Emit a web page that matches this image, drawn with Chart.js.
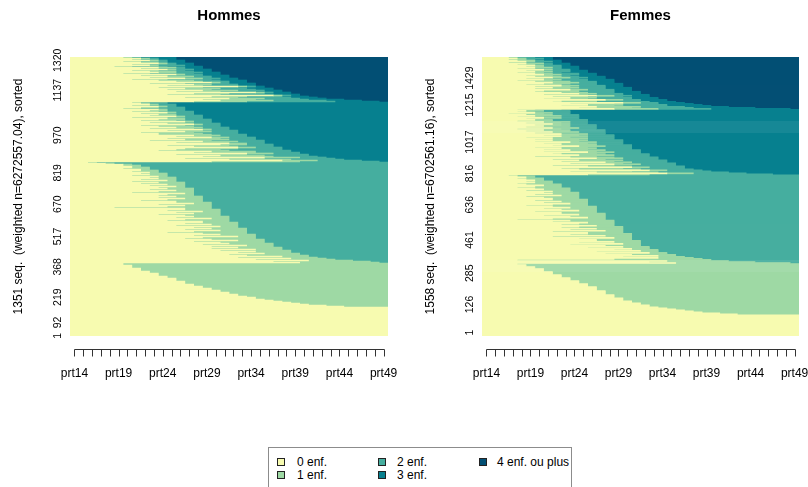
<!DOCTYPE html>
<html>
<head>
<meta charset="utf-8">
<script src="https://cdn.jsdelivr.net/npm/chart.js@4.4.0/dist/chart.umd.min.js"></script>
<style>
    html, body { margin: 0; padding: 0; background: #fff; width: 808px; height: 487px; overflow: hidden; }
    canvas { position: absolute; top: 0; }
    #hommes { left: 0; }
    #femmes { left: 404px; }
    #legend { position: absolute; left: 268px; top: 447px; width: 304px; height: 60px; border: 1px solid #8c8c8c; box-sizing: border-box; font: 12px 'Liberation Sans', Arial, sans-serif; color: #000; }
    #legend .sw { position: absolute; width: 6px; height: 6px; border: 1px solid #222; }
    #legend .lb { position: absolute; line-height: 14px; white-space: nowrap; }
</style>
</head>
<body>
<canvas id="hommes" width="404" height="400"></canvas>
<canvas id="femmes" width="410" height="400"></canvas>
<div id="legend"></div>

<script>
// Etats et périodes
const states = ['0 enf.', '1 enf.', '2 enf.', '3 enf.', '4 enf. ou plus'];
const periods = ['prt14', 'prt15', 'prt16', 'prt17', 'prt18', 'prt19', 'prt20', 'prt21', 'prt22',
    'prt23', 'prt24', 'prt25', 'prt26', 'prt27', 'prt28', 'prt29', 'prt30', 'prt31', 'prt32',
    'prt33', 'prt34', 'prt35', 'prt36', 'prt37', 'prt38', 'prt39', 'prt40', 'prt41', 'prt42',
    'prt43', 'prt44', 'prt45', 'prt46', 'prt47', 'prt48', 'prt49'];
const firstAge = 14;
const stateColors = ['#F7FBB0', '#9ED9A4', '#46AE9F', '#07808F', '#034F74'];

// Hommes : âges aux naissances successives, une ligne par tranche de séquences (haut -> bas)
const hommesFour = [
    [20,21,22,26],[22,23,24,26],[21,22,24,26],
    [23,24,25,27],[20,22,25,27],[22,24,25,27],
    [24,25,26,28],[21,23,26,28],[23,24,27,28],
    [19,21,25,29],[24,26,27,29],[22,24,27,29],
    [25,26,28,30],[21,24,27,30],[23,26,28,30],
    [24,26,29,31],[20,23,28,31],[26,27,29,31],
    [22,25,29,32],[25,28,30,32],[23,27,30,32],
    [27,29,31,33],[21,25,30,33],
    [24,28,31,34],[26,29,32,34],[30,31,32,34],
    [23,27,32,35],[28,30,33,35],[25,29,33,35],
    [33,34,35,36],[24,29,33,36],
    [27,31,34,37],[25,30,35,37],
    [29,33,36,38],[26,31,35,38],
    [35,36,37,39],[28,32,36,39],
    [25,31,37,40],[37,38,39,40],
    [30,34,38,41],[27,33,39,42],[32,36,40,43],[29,35,41,45],[31,37,43,47],[28,34,44,49]
];
const hommesThree = [
    [21,22,25],[22,23,25],
    [23,24,26],[21,23,26],[24,25,26],
    [22,24,27],[20,22,27],[24,25,27],[23,25,27],
    [21,24,28],[25,26,28],[22,25,28],[24,26,28],
    [23,26,29],[26,27,29],[21,25,29],[25,27,29],
    [24,27,30],[22,26,30],[27,28,30],[23,27,30],
    [25,28,31],[28,29,31],[22,27,31],[24,28,31],
    [26,29,32],[23,28,32],[29,30,32],
    [25,29,33],[27,30,33],[22,28,33],[24,29,33],
    [24,30,34],[28,31,34],[26,30,34],
    [30,32,35],[25,31,35],[27,32,35],
    [23,30,36],[29,33,36],[26,32,36],[32,34,36],
    [31,34,37],[25,32,37],[28,33,37],
    [33,35,38],[27,33,38],[26,31,38],
    [24,32,39],[30,35,39],
    [28,35,40],[34,37,40],
    [26,34,41],[31,36,41],
    [29,37,42],[36,40,43],[27,36,44],[32,39,45],[38,42,47],[30,40,49]
];
const hommesTwo = [
    [16,17],[18,19],[20,21],
    [20,22],[21,22],
    [21,23],[20,23],[22,23],
    [22,24],[21,24],[23,24],
    [22,25],[23,25],[21,25],[24,25],
    [23,26],[24,26],[22,26],[25,26],[21,26],
    [24,27],[22,27],[25,27],[23,27],[26,27],[24,27],
    [25,28],[23,28],[26,28],[24,28],[21,28],[27,28],[25,28],[24,28],
    [26,29],[24,29],[27,29],[25,29],[22,29],[26,29],
    [26,30],[28,30],[24,30],[27,30],[25,30],[19,30],[27,30],
    [27,31],[25,31],[29,31],[26,31],[28,31],[24,31],[27,31],
    [28,32],[26,32],[30,32],[27,32],[25,32],[29,32],
    [29,33],[27,33],[30,33],[26,33],[31,33],[28,33],
    [30,34],[27,34],[31,34],[28,34],[25,34],[29,34],
    [31,35],[28,35],[33,35],[29,35],[27,35],
    [30,36],[33,36],[28,36],[31,36],
    [32,37],[29,37],[34,37],[30,37],
    [33,38],[30,38],[35,38],
    [31,39],[35,39],[33,39],
    [36,40],[32,40],
    [34,41],[38,41],
    [33,42],[39,43],[35,44],[41,46],[37,48],[40,49]
];
const hommesOne = [20,20,21,21,21,22,22,22,23,23,24,24,24,25,25,26,26,26,27,27,27,
    28,28,29,29,30,30,31,31,32,32,33,33,34,35,35,36,37,38,39,40,41,43,45];
const hommesNone = 29;
const hommesTickRows = [3.3, 33.2, 78.2, 115.8, 147.2, 179.5, 209.8, 240.2, 265.5, 278.8];
const hommesTickLabels = ['1320', '1137', '970', '819', '670', '517', '368', '219', '92', '1'];

// Femmes
const femmesFour = [
    [17,18,20,22],[18,19,21,22],[17,19,20,22],
    [18,20,21,23],[19,20,22,23],[17,19,21,23],
    [19,21,22,24],[18,20,22,24],[20,21,23,24],
    [19,21,23,25],[20,22,23,25],[18,20,23,25],[21,22,24,25],
    [19,21,24,26],[20,22,24,26],[18,21,23,26],
    [20,22,25,27],[21,23,25,27],[19,22,24,27],
    [20,23,25,28],[22,24,26,28],[19,21,25,28],
    [21,23,26,29],[18,22,26,29],[20,24,27,29],[22,25,27,29],
    [21,24,27,30],[19,23,27,30],[23,25,28,30],[20,24,28,30],
    [22,25,28,31],[20,24,28,31],[24,26,29,31],[21,25,29,31],
    [20,25,29,32],[23,26,29,32],[25,27,30,32],
    [21,26,30,33],[27,29,31,33],[22,26,30,33],
    [24,27,31,34],[21,26,31,34],
    [28,30,32,35],[23,27,32,35],
    [22,27,33,36],[30,32,34,37],[24,29,34,38],[26,30,35,39],[23,29,35,40],
    [27,32,37,42],[25,31,38,45],[29,34,40,49]
];
const femmesThree = [
    [18,20,23],
    [19,21,24],[18,20,24],[20,22,24],[17,21,24],
    [19,22,25],[20,23,25],[18,21,25],[21,23,25],[19,21,25],
    [20,22,26],[18,22,26],[21,24,26],[19,23,26],[22,24,26],
    [20,23,27],[21,24,27],[19,22,27],[22,25,27],[18,23,27],
    [21,24,28],[19,24,28],[22,25,28],[20,23,28],[23,26,28],
    [21,25,29],[23,26,29],[19,24,29],[22,26,29],[20,25,29],
    [22,26,30],[20,25,30],[24,27,30],[21,26,30],[23,27,30],
    [22,27,31],[25,28,31],[20,26,31],[23,27,31],[21,26,31],
    [24,28,32],[21,27,32],[26,29,32],[22,27,32],
    [23,28,33],[25,29,33],[20,27,33],
    [24,29,34],[27,30,34],[22,28,34],
    [25,30,35],[23,29,35],[28,31,35],
    [24,30,36],[29,32,36],[22,29,36],
    [26,31,37],[31,33,37],[23,30,37],
    [25,32,38],[33,35,39],[24,31,40],[27,34,42],[35,38,44],[26,33,47]
];
const femmesTwo = [
    [17,18],
    [18,20],[19,20],
    [18,21],[19,21],[20,21],
    [19,22],[20,22],[18,22],
    [19,23],[21,23],[20,23],[18,23],
    [20,24],[21,24],[19,24],[22,24],
    [21,25],[22,25],[20,25],[23,25],[19,25],[21,25],[22,25],
    [22,26],[20,26],[23,26],[21,26],[24,26],[22,26],[19,26],
    [22,27],[24,27],[21,27],[23,27],[25,27],[20,27],[23,27],
    [23,28],[25,28],[21,28],[24,28],[26,28],[22,28],[18,28],
    [24,29],[22,29],[26,29],[25,29],[23,29],[27,29],
    [25,30],[23,30],[27,30],[24,30],[28,30],[22,30],[26,30],
    [26,31],[24,31],[28,31],[22,31],[29,31],[25,31],[27,31],
    [27,32],[29,32],[25,32],[30,32],[24,32],[28,32],
    [30,33],[26,33],[31,33],
    [29,34],[32,34],[27,34],
    [33,35],[28,35],
    [31,36],[34,36],
    [30,37],[34,38],[29,39],[18,40],[35,42],[33,45],[36,49]
];
const femmesOne = [18,19,19,20,20,21,21,21,22,22,22,23,23,23,24,24,24,25,25,25,26,26,26,
    27,27,27,27,28,28,28,28,29,29,29,30,30,30,31,31,32,32,33,33,34,35,36,37,38,39,41,43];
const femmesNone = 21;
const femmesTickRows = [21, 47.7, 84.4, 115.7, 146.7, 181.7, 214.7, 245.7, 273.7];
const femmesTickLabels = ['1429', '1215', '1017', '816', '636', '461', '285', '126', '1'];

const fontFamily = "'Liberation Sans', Arial, sans-serif";

// Assemble les lignes d'un panneau (haut -> bas)
function buildRows(four, three, two, one, none) {
    const rows = [];
    four.forEach(b => rows.push(b));
    three.forEach(b => rows.push(b));
    two.forEach(b => rows.push(b));
    one.forEach(a => rows.push([a]));
    for (let i = 0; i < none; i++) rows.push([]);
    return rows;
}

// Durée passée dans un état pour chaque ligne
function spells(rows, state) {
    const end = firstAge + periods.length;
    return rows.map(b => {
        if (state > b.length) return null;
        const from = state === 0 ? firstAge : b[state - 1];
        const to = state < b.length ? b[state] : end;
        const d = to - from;
        return d > 0 ? d : null;
    });
}

// Axes à la manière de R : ligne et graduations des x décalées sous le graphique,
// étiquettes des séquences tournées à gauche
const rAxis = {
    id: 'rAxis',
    afterDraw(chart, args, opts) {
        const xs = chart.scales.x;
        const ys = chart.scales.y;
        const ctx = chart.ctx;
        const y0 = Math.round(chart.chartArea.bottom + 13) + 0.5;
        ctx.save();
        ctx.strokeStyle = '#333';
        ctx.lineWidth = 1;
        ctx.beginPath();
        const p0 = Math.round(xs.getPixelForValue(xs.ticks[0].value)) + 0.5;
        const p1 = Math.round(xs.getPixelForValue(xs.ticks[xs.ticks.length - 1].value)) + 0.5;
        ctx.moveTo(p0, y0);
        ctx.lineTo(p1, y0);
        xs.ticks.forEach(t => {
            const px = Math.round(xs.getPixelForValue(t.value)) + 0.5;
            ctx.moveTo(px, y0);
            ctx.lineTo(px, y0 + 7);
        });
        ctx.stroke();

        ctx.fillStyle = '#000';
        ctx.font = '10.5px ' + fontFamily;
        ctx.textAlign = 'center';
        ctx.textBaseline = 'middle';
        const lx = chart.chartArea.left - opts.offset;
        opts.rows.forEach((r, i) => {
            const py = ys.getPixelForValue(r - 0.5);
            ctx.save();
            ctx.translate(lx, py);
            ctx.rotate(-Math.PI / 2);
            ctx.fillText(opts.labels[i], 0, 0);
            ctx.restore();
        });
        ctx.restore();
    }
};

function makePanel(id, title, yTitle, rows, tickRows, tickLabels, padLeft, padRight) {
    const ctx = document.getElementById(id).getContext('2d');
    return new Chart(ctx, {
        type: 'bar',
        data: {
            labels: rows.map((r, i) => i),
            datasets: states.map((s, k) => ({
                label: s,
                data: spells(rows, k),
                backgroundColor: stateColors[k],
                borderWidth: 0,
                barPercentage: 1,
                categoryPercentage: 1
            }))
        },
        options: {
            animation: false,
            responsive: false,
            indexAxis: 'y',
            layout: { padding: { left: padLeft, right: padRight, top: 0, bottom: 14 } },
            plugins: {
                legend: { display: false },
                tooltip: { enabled: false },
                title: {
                    display: true,
                    text: title,
                    fullSize: false,
                    color: '#000',
                    font: { family: fontFamily, size: 15, weight: 'bold' },
                    padding: { top: 7, bottom: 32 }
                },
                rAxis: { rows: tickRows, labels: tickLabels, offset: 12 }
            },
            scales: {
                x: {
                    type: 'linear',
                    stacked: true,
                    min: 0,
                    max: periods.length,
                    grid: {
                        display: true, drawOnChartArea: false, drawTicks: true, tickLength: 30,
                        color: 'rgba(0,0,0,0)', tickColor: 'rgba(0,0,0,0)'
                    },
                    border: { display: false },
                    afterBuildTicks: s => { s.ticks = periods.map((p, i) => ({ value: i + 0.5 })); },
                    afterFit: s => { s.height = 50; },
                    ticks: {
                        autoSkip: false,
                        maxRotation: 0,
                        padding: 0,
                        color: '#000',
                        font: { family: fontFamily, size: 12 },
                        callback: (v, i) => (i % 5 === 0 ? periods[i] : '')
                    }
                },
                y: { type: 'category', stacked: true, display: false },
                yt: {
                    type: 'linear',
                    position: 'left',
                    min: 0,
                    max: rows.length,
                    grid: { display: false, drawTicks: false },
                    border: { display: false },
                    afterFit: s => { s.width = 70; },
                    ticks: { display: false },
                    title: {
                        display: true,
                        text: yTitle,
                        color: '#000',
                        font: { family: fontFamily, size: 12 },
                        padding: { top: 11, bottom: 0 }
                    }
                }
            }
        },
        plugins: [rAxis]
    });
}

makePanel('hommes', 'Hommes', '1351 seq.  (weighted n=6272557.04), sorted',
    buildRows(hommesFour, hommesThree, hommesTwo, hommesOne, hommesNone),
    hommesTickRows, hommesTickLabels, 0, 16);
makePanel('femmes', 'Femmes', '1558 seq.  (weighted n=6702561.16), sorted',
    buildRows(femmesFour, femmesThree, femmesTwo, femmesOne, femmesNone),
    femmesTickRows, femmesTickLabels, 8, 15);

// Légende commune
const legendPos = [[0, 0], [0, 1], [1, 0], [1, 1], [2, 0]];
const legend = document.getElementById('legend');
states.forEach((s, k) => {
    const col = legendPos[k][0], row = legendPos[k][1];
    const sw = document.createElement('div');
    sw.className = 'sw';
    sw.style.background = stateColors[k];
    sw.style.left = (8 + col * 101) + 'px';
    sw.style.top = (10 + row * 13) + 'px';
    legend.appendChild(sw);
    const lb = document.createElement('div');
    lb.className = 'lb';
    lb.textContent = s;
    lb.style.left = (28 + col * 100) + 'px';
    lb.style.top = (7 + row * 13) + 'px';
    legend.appendChild(lb);
});
</script>
</body>
</html>
